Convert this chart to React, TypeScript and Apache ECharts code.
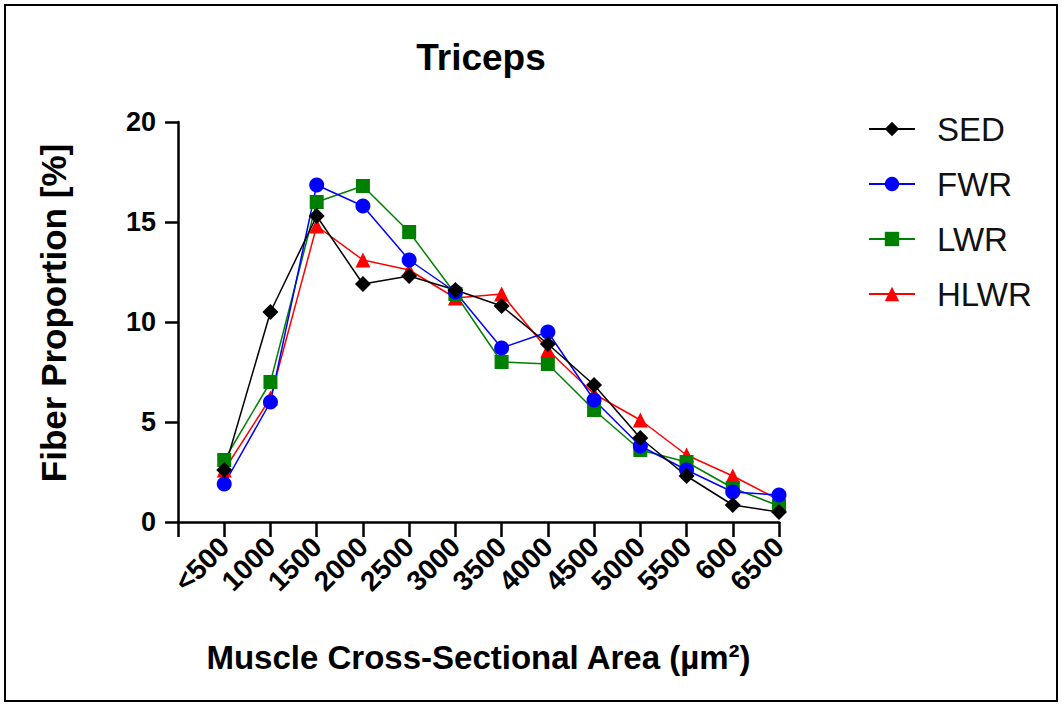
import React, { useEffect, useRef } from "react";
import * as echarts from "echarts";

const categories = ["", "<500", "1000", "1500", "2000", "2500", "3000", "3500", "4000", "4500", "5000", "5500", "600", "6500"];
const sed = [2.6, 10.5, 15.3, 11.9, 12.3, 11.6, 10.8, 8.9, 6.85, 4.2, 2.3, 0.85, 0.5];
const fwr = [1.9, 6.0, 16.85, 15.8, 13.1, 11.5, 8.7, 9.5, 6.1, 3.8, 2.6, 1.5, 1.35];
const lwr = [3.1, 7.0, 16.0, 16.8, 14.5, 11.4, 8.0, 7.9, 5.6, 3.6, 3.0, 1.7, 0.8];
const hlwr = [2.6, 6.2, 14.8, 13.1, 12.6, 11.2, 11.4, 8.6, 6.4, 5.1, 3.35, 2.3, 1.1];
const yTicks = [0, 5, 10, 15, 20];

const FONT = "'Liberation Sans', Arial, Helvetica, sans-serif";

export default function App() {
  const ref = useRef<HTMLDivElement>(null);
  useEffect(() => {
    if (!ref.current) return;
    const chart = echarts.init(ref.current, null, { renderer: "svg" });
    const mk = (name: string, data: number[], color: string, symbol: string, size: number) => ({
      name,
      type: "line",
      data: [null, ...data],
      symbol,
      symbolSize: size,
      showAllSymbol: true,
      connectNulls: false,
      lineStyle: { color, width: 1.5 },
      itemStyle: { color, borderWidth: 0 },
      emphasis: { disabled: true },
    });
    chart.setOption({
      animation: false,
      backgroundColor: "#ffffff",
      textStyle: { fontFamily: FONT },
      title: {
        text: "Triceps",
        left: 476,
        top: 34,
        textAlign: "center",
        textStyle: { fontFamily: FONT, fontWeight: "bold", fontSize: 37, color: "#000" },
      },
      legend: {
        orient: "vertical",
        left: 868,
        top: 112,
        padding: 0,
        itemWidth: 46,
        itemHeight: 18,
        itemGap: 21,
        textStyle: { fontFamily: FONT, fontSize: 33, color: "#111", padding: [0, 0, 0, 17], lineHeight: 34 },
        data: ["SED", "FWR", "LWR", "HLWR"],
      },
      grid: { left: 178, right: 283, top: 122, bottom: 183, containLabel: false },
      xAxis: {
        type: "category",
        data: categories,
        boundaryGap: false,
        axisLine: { lineStyle: { color: "#000", width: 2.5 } },
        axisTick: { show: true, length: 15, alignWithLabel: true, lineStyle: { color: "#000", width: 2.5 } },
        axisLabel: {
          rotate: 45,
          interval: 0,
          margin: 20,
          fontFamily: FONT,
          fontWeight: "bold",
          fontSize: 28,
          color: "#000",
        },
        name: "Muscle Cross-Sectional Area (µm²)",
        nameLocation: "middle",
        nameGap: 119,
        nameTextStyle: { fontFamily: FONT, fontWeight: "bold", fontSize: 33, color: "#000" },
      },
      yAxis: {
        type: "value",
        min: 0,
        max: 20,
        interval: 5,
        splitLine: { show: false },
        axisLine: { show: true, lineStyle: { color: "#000", width: 2.5 } },
        axisTick: { show: true, length: 13, lineStyle: { color: "#000", width: 2.5 } },
        axisLabel: {
          margin: 22,
          fontFamily: FONT,
          fontWeight: "bold",
          fontSize: 27,
          color: "#000",
          formatter: (v: number) => (yTicks.includes(v) ? String(v) : ""),
        },
        name: "Fiber Proportion [%]",
        nameLocation: "middle",
        nameRotate: 90,
        nameGap: 107,
        nameTextStyle: { fontFamily: FONT, fontWeight: "bold", fontSize: 35, color: "#000", padding: [0, 0, 0, 18] },
      },
      graphic: [
        {
          type: "rect",
          shape: { x: 5, y: 5, width: 1052, height: 696 },
          style: { fill: "none", stroke: "#000", lineWidth: 2 },
          silent: true,
        },
      ],
      series: [
        mk("SED", sed, "#000000", "diamond", 16),
        mk("FWR", fwr, "#0000ff", "circle", 15),
        mk("LWR", lwr, "#008000", "rect", 14),
        mk("HLWR", hlwr, "#ff0000", "triangle", 15),
      ].reverse(),
    });
    return () => chart.dispose();
  }, []);
  return (
    <div
      ref={ref}
      style={{ position: "absolute", left: 0, top: 0, width: 1062, height: 705 }}
    />
  );
}
